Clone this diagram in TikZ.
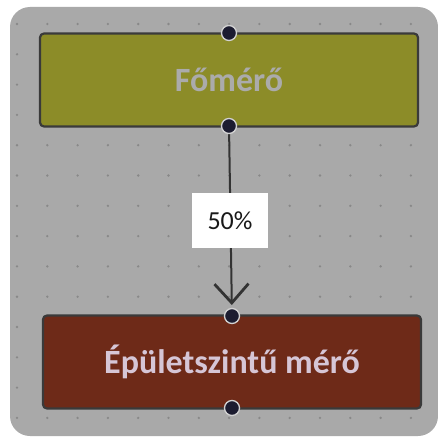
\documentclass[tikz,border=0pt]{standalone}
\usepackage{fontspec}
\setmainfont{Carlito}
\usetikzlibrary{arrows.meta}
\definecolor{bggray}{HTML}{A9A9A9}
\definecolor{griddot}{HTML}{888888}
\definecolor{olivebox}{HTML}{8C8C28}
\definecolor{rustbox}{HTML}{6E2A18}
\definecolor{boxedge}{HTML}{3A3A3A}
\definecolor{portfill}{HTML}{1C1C30}
\definecolor{topText}{HTML}{ABABAB}
\definecolor{botText}{HTML}{D6C6D6}
\tikzset{
  meterbox/.style={draw=boxedge, line width=2.2pt, rounded corners=4pt, minimum width=378pt, minimum height=93pt, inner sep=0pt, font=\fontsize{34}{40}\selectfont\bfseries},
  port/.style={circle, fill=portfill, draw=gray!35, line width=1.3pt, minimum size=15pt, inner sep=0pt},
  flow/.style={draw=black!80, line width=2pt},
  pctlabel/.style={fill=white, minimum width=76pt, minimum height=55pt, inner sep=0pt, font=\fontsize{26}{30}\selectfont, text=black!90}
}
\begin{document}
\begin{tikzpicture}[x=1pt,y=-1pt]
\useasboundingbox (0,0) rectangle (438,436);
\fill[white] (0,0) rectangle (438,436);
\fill[bggray, rounded corners=20pt] (10,7) rectangle (438,436);
\foreach \i in {0,...,13}{
  \foreach \j in {0,...,13}{
    \fill[griddot] ({17+30.3*\i},{24+30.3*\j}) circle (1.3pt);
  }
}
\node[meterbox, fill=olivebox, text=topText] (fo) at (229,80) {Főmérő};
\node[meterbox, fill=rustbox, text=botText] (ep) at (232,362) {Épületszintű mérő};
\coordinate (foS) at (229,126);
\coordinate (foN) at (229,33);
\coordinate (epN) at (232,316);
\coordinate (epS) at (232,408);
\draw[flow, shorten >=11pt, -{Straight Barb[length=19pt, width=34pt, line width=2.8pt]}] (foS) -- (epN);
\node[pctlabel] (pct) at (230,220.5) {50\%};
\node[port] (pfoN) at (foN) {};
\node[port] (pfoS) at (foS) {};
\node[port] (pepN) at (epN) {};
\node[port] (pepS) at (epS) {};
\end{tikzpicture}
\end{document}
